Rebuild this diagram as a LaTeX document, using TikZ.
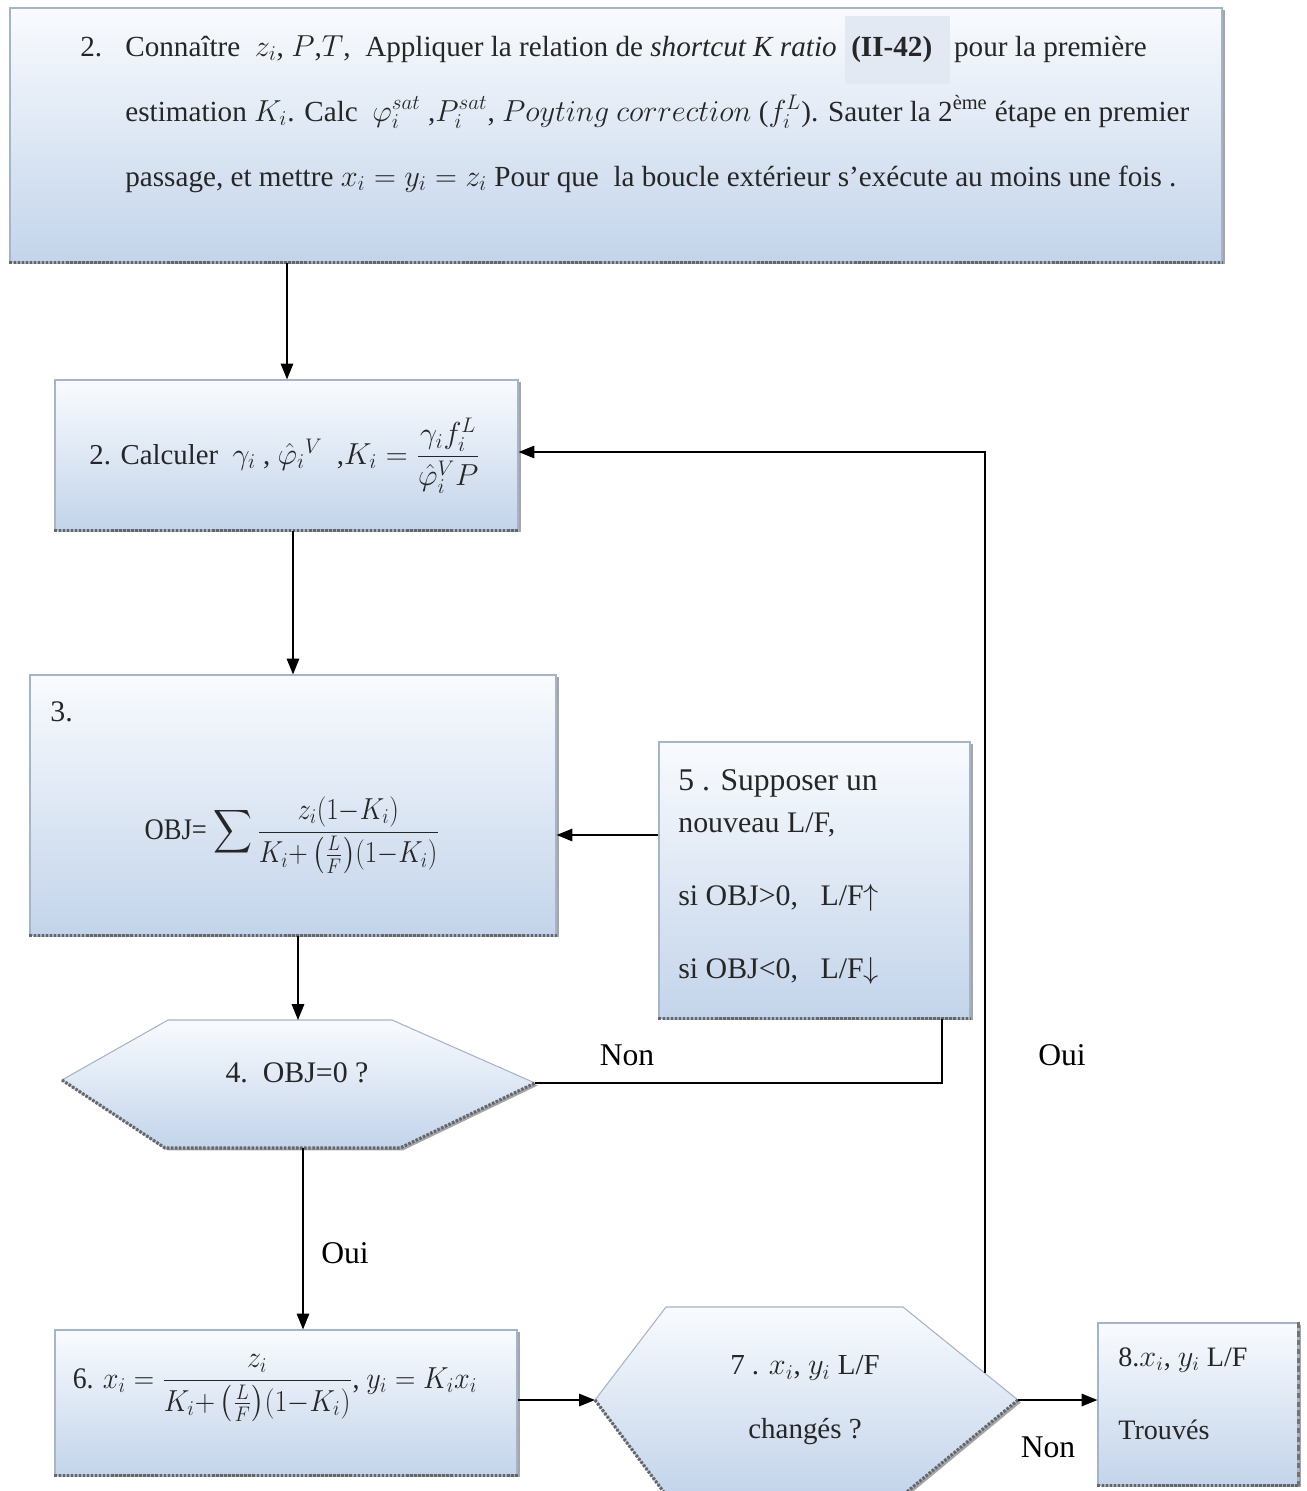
\documentclass[tikz,border=0pt]{standalone}
\usepackage{amsmath}
\usepackage{graphicx}
\usepackage{fontspec}
\setmainfont{Liberation Serif}
\usetikzlibrary{arrows.meta,shadows,fit,calc}
\definecolor{boxtop}{HTML}{F9FBFE}
\definecolor{boxbot}{HTML}{C3D4EA}
\definecolor{boxline}{HTML}{A3B5CB}
\definecolor{hl}{HTML}{E3E9F2}
\begin{document}
\begin{tikzpicture}[x=0.02cm,y=-0.02cm,
  box/.style={draw=boxline, line width=0.6pt, top color=boxtop, bottom color=boxbot,
    drop shadow={shadow xshift=1.6pt, shadow yshift=-1.4pt, fill=black, opacity=0.35}, inner sep=0pt},
  botline/.style={draw=black!60, line width=1.8pt, dash pattern=on 1.4pt off 0.9pt},
  arr/.style={-{Triangle[length=9pt,width=7pt]}, line width=1.1pt},
  ln/.style={line width=1.1pt},
  txt/.style={inner sep=0pt, text=black!85},
  lbl/.style={inner sep=0pt, font=\fontsize{18}{20}\selectfont}]
\useasboundingbox[fill=white] (0,0) rectangle (1307,1491);

% ---------- boxes ----------
\node[box, fit={(10,8) (1222,262)}] (top) {};
\draw[botline] (top.south west) -- (top.south east);
\fill[hl] (845,16) rectangle (950,84);

\node[box, fit={(55,380) (518,530)}] (b2) {};
\draw[botline] (b2.south west) -- (b2.south east);

\node[box, fit={(30,675) (556,935)}] (b3) {};
\draw[botline] (b3.south west) -- (b3.south east);

\node[box, fit={(659,742) (970,1018)}] (b5) {};
\draw[botline] (b5.south west) -- (b5.south east);

\node[box, fit={(55,1330) (517,1475)}] (b6) {};
\draw[botline] (b6.south west) -- (b6.south east);

\node[box, fit={(1098,1323) (1298,1485)}] (b8) {};
\draw[botline] (b8.south west) -- (b8.south east);
\draw[black!55, line width=1.2pt, dash pattern=on 3pt off 2pt] (b8.north east) -- (b8.south east);

% ---------- hexagons ----------
\coordinate (h4w) at (62,1080);
\coordinate (h4e) at (535,1083);
\coordinate (h4n) at (298,1020);
\coordinate (h4s) at (303,1148);
\path[box] (h4w) -- (168,1020) -- (392,1020) -- (h4e) -- (400,1148) -- (165,1148) -- cycle;
\draw[botline] (h4w) -- (165,1148) -- (400,1148) -- (h4e);

\coordinate (h7w) at (595,1400);
\coordinate (h7e) at (1018,1400);
\coordinate (h7r) at (985,1373);
\path[box] (h7w) -- (666,1307) -- (903,1307) -- (h7e) -- (903,1495) -- (666,1495) -- cycle;
\draw[botline] (h7w) -- (666,1495);
\draw[botline] (h7e) -- (903,1495);

% ---------- texts ----------
\node[txt, anchor=base west] (t0) at (80,56) {\fontsize{16.6}{18}\selectfont 2.};
\node[txt, anchor=base west] (t1) at (125,56) {\fontsize{16.6}{18}\selectfont Connaître\ \ $z_i$, $P$,$T$,\ \ Appliquer la relation de \textit{shortcut K ratio}\ \ \textbf{(II-42)}\ \ \ pour la première};
\node[txt, anchor=base west] (t2) at (125,121) {\fontsize{16.6}{18}\selectfont estimation $K_i$. Calc\ \ $\varphi_i^{sat}$ ,$P_i^{sat}$, $Poyting\ correction$ ($f_i^L$). Sauter la 2\textsuperscript{ème} étape en premier};
\node[txt, anchor=base west] (t3) at (125,186) {\fontsize{16.6}{18}\selectfont passage, et mettre $x_i = y_i = z_i$ Pour que\ \ la boucle extérieur s’exécute au moins une fois .};

\node[txt] (b2t) at (285,456) {\fontsize{16.4}{18}\selectfont 2. Calculer\ \ $\gamma_i$ , $\hat{\varphi}_i{}^V$\ \ ,$K_i = \dfrac{\gamma_i f_i^L}{\hat{\varphi}_i^V P}$};

\node[txt, anchor=west] (b3n) at (50,712) {\fontsize{17}{20}\selectfont 3.};
\node[txt] (b3t) at (292,835) {\scalebox{0.89}[1]{\fontsize{17}{20}\selectfont OBJ= $\displaystyle\sum \frac{z_i(1{-}K_i)}{K_i{+}\left(\frac{L}{F}\right)\!(1{-}K_i)}$}};

\node[txt, anchor=base west] (b5a) at (678,790) {\fontsize{18}{20}\selectfont 5 . Supposer un};
\node[txt, anchor=base west] (b5b) at (678,832) {\fontsize{17}{20}\selectfont nouveau L/F,};
\node[txt, anchor=base west] (b5c) at (678,905) {\fontsize{17}{20}\selectfont si OBJ>0,\ \ \ L/F$\uparrow$};
\node[txt, anchor=base west] (b5d) at (678,978) {\fontsize{17}{20}\selectfont si OBJ<0,\ \ \ L/F$\downarrow$};

\node[txt] (h4t) at (297,1073) {\fontsize{17}{20}\selectfont 4.\ \ OBJ=0 ?};

\node[txt] (b6t) at (275,1388) {\scalebox{0.93}[1]{\fontsize{17}{20}\selectfont 6. $x_i = \dfrac{z_i}{K_i{+}\left(\frac{L}{F}\right)\!(1{-}K_i)}$, $y_i = K_i x_i$}};

\node[txt] (h7a) at (805,1368) {\fontsize{16.5}{20}\selectfont 7 . $x_i$, $y_i$ L/F};
\node[txt] (h7b) at (805,1432) {\fontsize{16.5}{20}\selectfont changés ?};

\node[txt, anchor=west] (b8a) at (1118,1360) {\fontsize{16}{20}\selectfont 8.$x_i$, $y_i$ L/F};
\node[txt, anchor=west] (b8b) at (1118,1430) {\fontsize{16}{20}\selectfont Trouvés};

% ---------- connectors ----------
\draw[arr] (top.south -| 287,0) -- (b2.north -| 287,0);
\draw[arr] (b2.south -| 293,0) -- (b3.north -| 293,0);
\draw[arr] (b5.west |- 0,835) -- (b3.east |- 0,835);
\draw[arr] (b3.south -| 298,0) -- (h4n);
\draw[ln] (h4e) -| (b5.south -| 942,0);
\draw[arr] (h4s) -- (b6.north -| 303,0);
\draw[arr] (b6.east |- h7w) -- (h7w);
\draw[arr] (h7e) -- (b8.west |- h7e);
\draw[arr] (h7r) |- (b2.east |- 0,452);

% ---------- labels ----------
\node[lbl] (lnon1) at (627,1055) {Non};
\node[lbl] (loui1) at (1062,1055) {Oui};
\node[lbl] (loui2) at (345,1253) {Oui};
\node[lbl] (lnon2) at (1048,1447) {Non};
\end{tikzpicture}
\end{document}
